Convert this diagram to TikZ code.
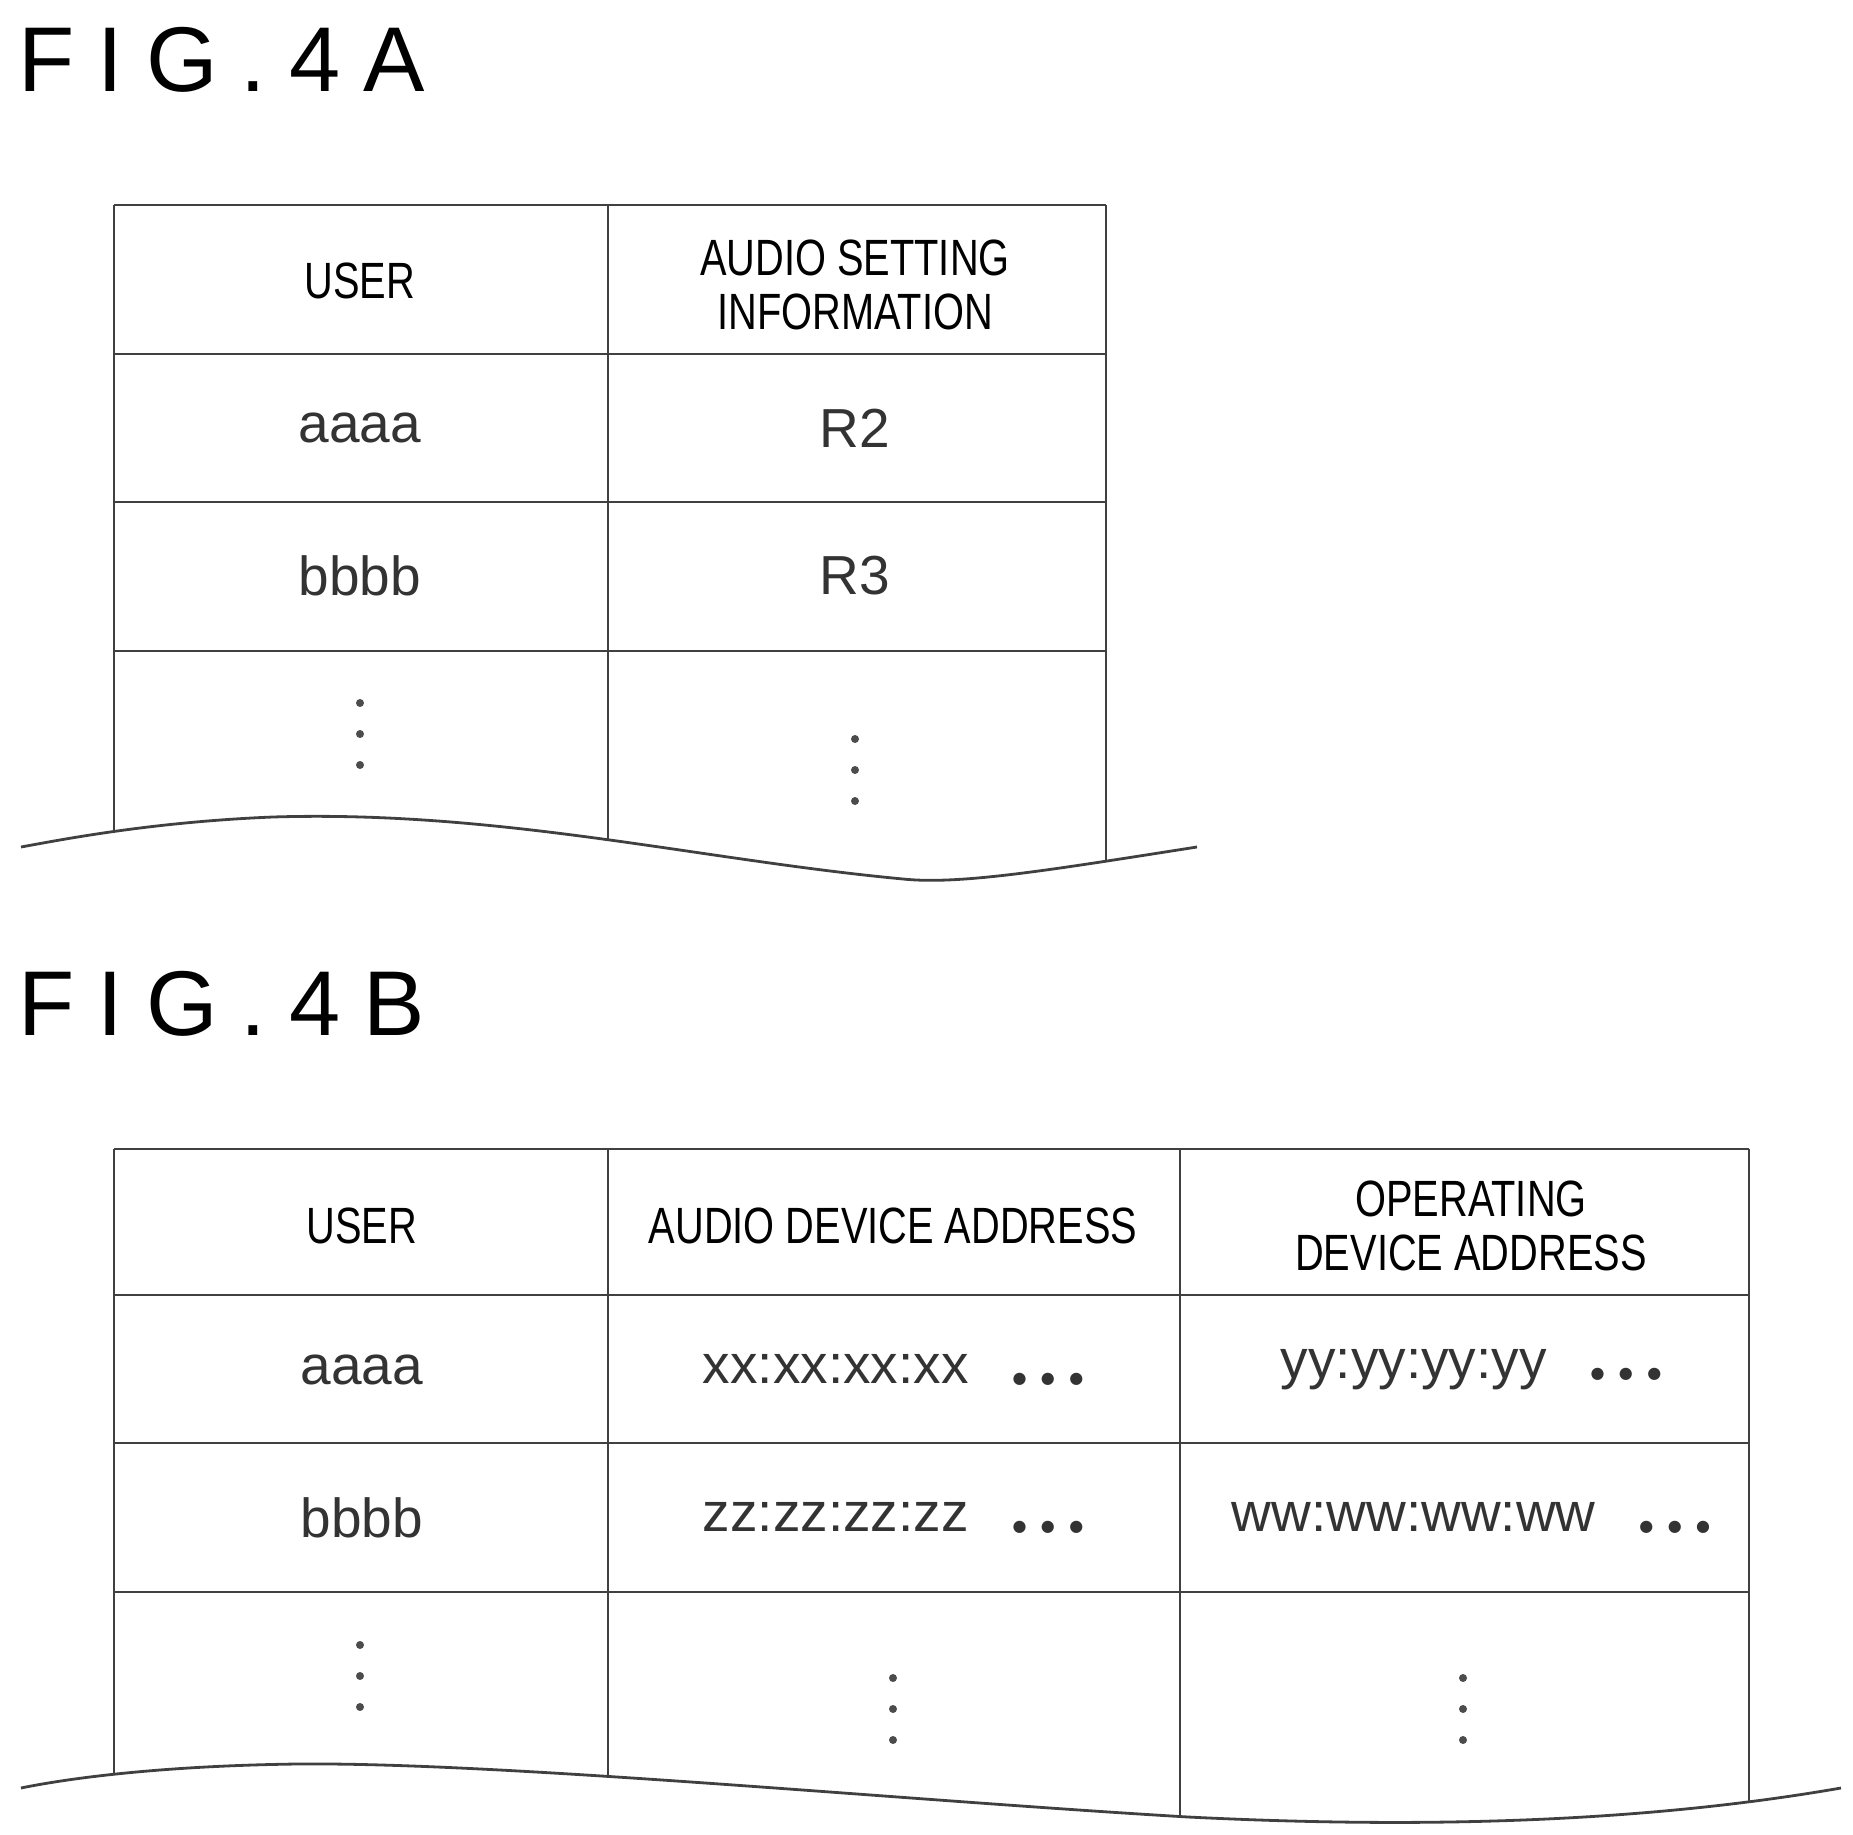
\documentclass[tikz,border=0pt]{standalone}
\usepackage{fontspec}
\setmainfont{Liberation Sans}
\newfontfamily\narrowf[FakeStretch=0.78]{Liberation Sans}
\newfontfamily\symf{DejaVu Sans}
\begin{document}
\begin{tikzpicture}[x=0.5pt,y=-0.5pt,
  tl/.style={line width=1.4pt,color=black!75},
  hd/.style={font=\narrowf\fontsize{25.5}{27}\selectfont,align=center,inner sep=0},
  cell/.style={font=\fontsize{27.5}{29}\selectfont,inner sep=0,color=black!80},
  ttl/.style={font=\fontsize{46}{46}\selectfont,anchor=west,inner sep=0},
  dt/.style={circle,fill=black!70,minimum size=4pt,inner sep=0}]
\useasboundingbox (0,0) rectangle (1853,1835);
\newcommand\vdts[2]{\node[dt] at (#1,#2) {};\node[dt] at (#1,#2+31) {};\node[dt] at (#1,#2+62) {};}
\newcommand\hdts{\hspace{0.8em}{\fontsize{8}{8}\selectfont\symf ●\hspace{0.9em}●\hspace{0.9em}●}}
% FIG 4A
\node[ttl] (ta) at (18,60) {F\hspace{0.25em}I\hspace{0.25em}G\hspace{0.25em}.\hspace{0.25em}4\hspace{0.25em}A};
\begin{scope}
\clip (0,0) -- (1853,0) -- (1853,847) -- (1197,847) .. controls (1050,870) and (960,885) .. (903,879) .. controls (700,860) and (500,810) .. (273,817) .. controls (150,822) and (60,840) .. (21,847) -- (0,847) -- cycle;
\draw[tl] (114,205) -- (1106,205);
\foreach \y in {354,502,651} \draw[tl] (114,\y) -- (1106,\y);
\foreach \x in {114,608,1106} \draw[tl] (\x,205) -- (\x,900);
\end{scope}
\draw[tl] (21,847) .. controls (60,840) and (150,822) .. (273,817) .. controls (500,810) and (700,860) .. (903,879) .. controls (960,885) and (1050,870) .. (1197,847);
\node[hd] (a1) at (360,281) {USER};
\node[hd] (a2) at (855,285) {AUDIO SETTING\\INFORMATION};
\node[cell] (a3) at (360,428) {aaaa};
\node[cell] (a4) at (855,428) {R2};
\node[cell] (a5) at (360,576) {bbbb};
\node[cell] (a6) at (855,576) {R3};
\vdts{360}{703}\vdts{855}{739}
% FIG 4B
\node[ttl] (tb) at (18,1004) {F\hspace{0.25em}I\hspace{0.25em}G\hspace{0.25em}.\hspace{0.25em}4\hspace{0.25em}B};
\begin{scope}
\clip (0,900) -- (1853,900) -- (1853,1788) -- (1841,1788) .. controls (1600,1830) and (1350,1825) .. (1188,1817) .. controls (900,1800) and (500,1762) .. (297,1764) .. controls (150,1766) and (60,1780) .. (21,1788) -- (0,1788) -- cycle;
\draw[tl] (114,1149) -- (1749,1149);
\foreach \y in {1295,1443,1592} \draw[tl] (114,\y) -- (1749,\y);
\foreach \x in {114,608,1180,1749} \draw[tl] (\x,1149) -- (\x,1850);
\end{scope}
\draw[tl] (21,1788) .. controls (60,1780) and (150,1766) .. (297,1764) .. controls (500,1762) and (900,1800) .. (1188,1817) .. controls (1350,1825) and (1600,1830) .. (1841,1788);
\node[hd] (b1) at (362,1226) {USER};
\node[hd] (b2) at (893,1226) {AUDIO DEVICE ADDRESS};
\node[hd] (b3) at (1471,1226) {OPERATING\\DEVICE ADDRESS};
\node[cell] (b4) at (362,1370) {aaaa};
\node[cell] (b5) at (893,1370) {xx:xx:xx:xx\hdts};
\node[cell] (b6) at (1471,1370) {yy:yy:yy:yy\hdts};
\node[cell] (b7) at (362,1518) {bbbb};
\node[cell] (b8) at (893,1518) {zz:zz:zz:zz\hdts};
\node[cell] (b9) at (1471,1518) {ww:ww:ww:ww\hdts};
\vdts{360}{1645}\vdts{893}{1678}\vdts{1463}{1678}
\end{tikzpicture}
\end{document}
